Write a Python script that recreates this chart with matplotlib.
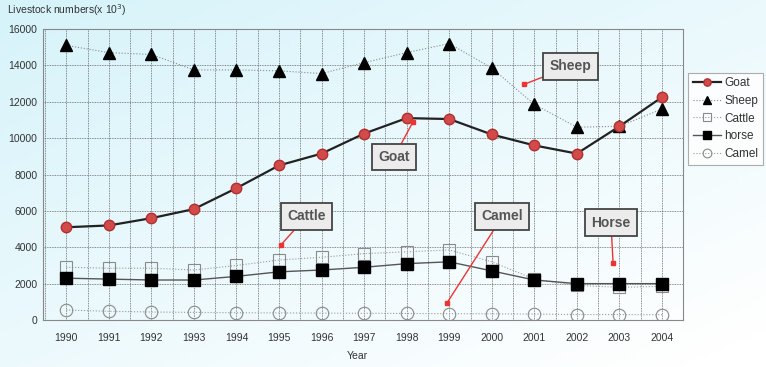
import numpy as np
import matplotlib
matplotlib.use("Agg")
import matplotlib.pyplot as plt
from matplotlib.colors import LinearSegmentedColormap

plt.rcParams['font.family'] = ['Liberation Sans', 'DejaVu Sans']

years = list(range(1990, 2005))
goat = [5100, 5200, 5600, 6100, 7250, 8500, 9150, 10250, 11100, 11050, 10200, 9600, 9150, 10650, 12250]
sheep = [15100, 14700, 14600, 13750, 13750, 13700, 13550, 14150, 14700, 15200, 13850, 11850, 10600, 10650, 11600]
cattle = [2900, 2850, 2850, 2750, 3000, 3300, 3450, 3650, 3750, 3850, 3200, 2250, 1900, 1800, 1850]
horse = [2300, 2250, 2200, 2200, 2400, 2650, 2750, 2900, 3100, 3200, 2700, 2200, 2000, 2000, 2000]
camel = [550, 480, 440, 420, 400, 390, 380, 370, 360, 350, 340, 330, 300, 300, 290]

# callout boxes: label, box centre, arrow tip
callouts = [
    ("Sheep", (2001.85, 13950), (2000.75, 12950)),
    ("Goat", (1997.7, 8950), (1998.15, 10900)),
    ("Cattle", (1995.65, 5700), (1995.05, 4150)),
    ("Camel", (2000.25, 5700), (1998.95, 950)),
    ("Horse", (2002.8, 5350), (2002.85, 3150)),
]

fig = plt.figure(figsize=(7.66, 3.67), dpi=100)

# light cyan background gradient
bg = fig.add_axes([0, 0, 1, 1], zorder=-10)
gx, gy = np.meshgrid(np.linspace(0, 1, 200), np.linspace(0, 1, 100))
grad = np.clip(0.5 * gx + 0.55 * gy, 0, 1)
cmap_bg = LinearSegmentedColormap.from_list("bg", ["#d6f3fa", "#ffffff"])
bg.imshow(grad, cmap=cmap_bg, aspect="auto", origin="upper", extent=[0, 1, 0, 1])
bg.axis("off")

ax = fig.add_axes([0.056, 0.128, 0.836, 0.793])
ax.set_facecolor("none")

ax.plot(years, camel, color="#9a9a9a", lw=0.8, ls=":", marker="o", ms=9,
        mfc="none", mec="#8a8a8a", mew=0.8, label="Camel", zorder=3)
ax.plot(years, cattle, color="#9a9a9a", lw=0.8, ls=":", marker="s", ms=9,
        mfc="none", mec="#8a8a8a", mew=0.8, label="Cattle", zorder=3)
ax.plot(years, horse, color="#555555", lw=1.0, marker="s", ms=9,
        mfc="black", mec="black", label="horse", zorder=4)
ax.plot(years, sheep, color="#8a8a8a", lw=0.8, ls=":", marker="^", ms=8,
        mfc="black", mec="black", label="Sheep", zorder=4)
ax.plot(years, goat, color="#222222", lw=1.6, marker="o", ms=7.5,
        mfc="#d24a4a", mec="#b03030", label="Goat", zorder=5)

ax.set_xlim(1989.45, 2004.5)
ax.set_ylim(0, 16000)
ax.set_xticks(years)
ax.set_xticks(np.arange(1989.5, 2004.6, 1.0), minor=True)
ax.set_yticks(np.arange(0, 16001, 2000))
ax.tick_params(axis="both", which="both", length=0, labelsize=7.5, colors="#333333")
ax.tick_params(axis="x", pad=9)
ax.tick_params(axis="y", pad=4)
ax.grid(which="both", color="#666666", ls=(0, (1, 1)), lw=0.6)
for sp in ax.spines.values():
    sp.set_color("#888888")
    sp.set_linestyle((0, (1, 1)))
    sp.set_linewidth(0.8)

fig.text(0.009, 0.972, "Livestock numbers(x 10$^3$)", fontsize=7.5, color="#333333",
         ha="left", va="center")
fig.text(0.466, 0.030, "Year", fontsize=7.5, color="#333333", ha="center", va="center")

for label, box, tip in callouts:
    ax.annotate(label, xy=tip, xytext=box, ha="center", va="center",
                fontsize=10, fontweight="bold", color="#555555",
                bbox=dict(boxstyle="square,pad=0.45", fc="#ececec", ec="#444444", lw=1.3),
                arrowprops=dict(arrowstyle="-", color="#ee3333", lw=1.0,
                                shrinkA=0, shrinkB=0),
                zorder=8)
    ax.plot(tip[0], tip[1], marker="s", ms=3, color="#ee3333", zorder=8)

# legend order like the reference
handles, labels = ax.get_legend_handles_labels()
order = [labels.index(n) for n in ["Goat", "Sheep", "Cattle", "horse", "Camel"]]
leg = ax.legend([handles[i] for i in order], [labels[i] for i in order],
                loc="upper left", bbox_to_anchor=(1.008, 0.85), borderaxespad=0,
                fontsize=8.5, frameon=True, fancybox=False, labelspacing=0.5,
                handlelength=2.4, handletextpad=0.3, borderpad=0.35, markerscale=0.7)
leg.get_frame().set_edgecolor("#999999")
leg.get_frame().set_linewidth(0.8)
leg.get_frame().set_facecolor("white")
for t in leg.get_texts():
    t.set_color("#333333")

fig.savefig("out.png", dpi=100)
